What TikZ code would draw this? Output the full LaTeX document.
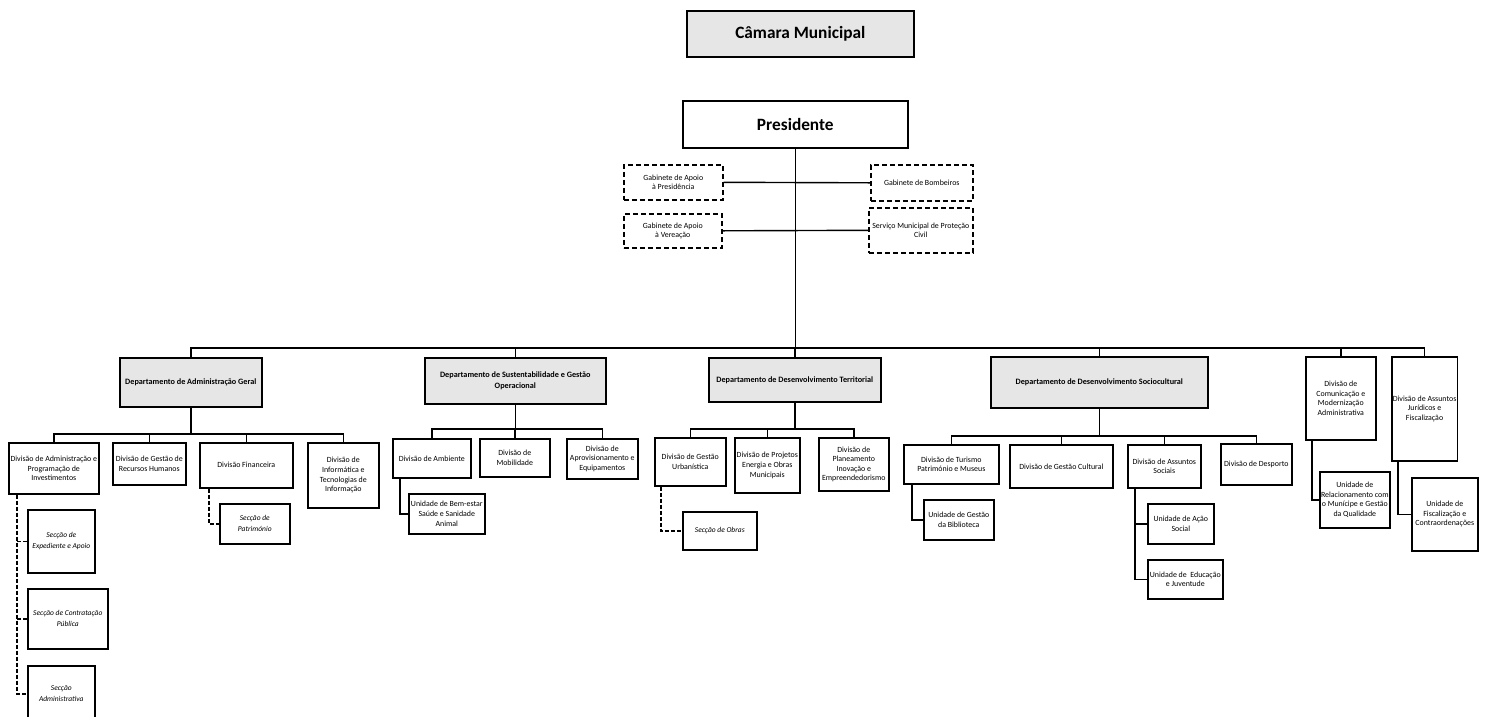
\documentclass[tikz,border=0pt]{standalone}
\usepackage{fontspec}
\setmainfont{Carlito}
\usetikzlibrary{calc}
\definecolor{boxgray}{RGB}{231,230,230}

\begin{document}
\begin{tikzpicture}[
         x=1pt, y=-1pt,
         unit/.style={draw, line width=1.6pt, anchor=north west, align=center, inner sep=1pt,
                      font=\fontsize{7.9}{9.6}\selectfont},
         title/.style={unit, font=\fontsize{17.3}{20}\selectfont\bfseries},
         dept/.style={unit, fill=boxgray, font=\fontsize{8.2}{10.4}\selectfont\bfseries},
         division/.style={unit},
         section/.style={unit, font=\fontsize{7.5}{11}\selectfont\itshape},
         office/.style={unit, dash pattern=on 5pt off 3pt},
         link/.style={line width=1.4pt},
         dashlink/.style={line width=1.4pt, dash pattern=on 4pt off 2pt}
      ]
         \useasboundingbox (0,0) rectangle (1486,716);

         % Nodes for the top
         \node[title, fill=boxgray, minimum width=227pt, minimum height=46pt] (camara) at (686,10) {Câmara Municipal};
         \node[title, minimum width=225pt, minimum height=47pt] (presid) at (682,100) {Presidente};

         % Offices beside the president
         \node[office, minimum width=99pt, minimum height=35pt] (gabpres) at (623,164) {Gabinete de Apoio\\à Presidência};
         \node[office, minimum width=98pt, minimum height=34pt] (gabver) at (623,213) {Gabinete de Apoio\\à Vereação};
         \node[office, minimum width=102pt, minimum height=36pt] (gabbomb) at (870,164) {Gabinete de Bombeiros};
         \node[office, minimum width=104pt, minimum height=45pt] (smpc) at (868,207) {Serviço Municipal de Proteção\\Civil};

         % Departments
         \node[dept, minimum width=142pt, minimum height=49pt] (dag) at (119,357) {Departamento de Administração Geral};
         \node[dept, minimum width=181pt, minimum height=46pt] (dsgo) at (424,357) {Departamento de Sustentabilidade e Gestão\\Operacional};
         \node[dept, minimum width=172pt, minimum height=44pt] (ddt) at (708,357) {Departamento de Desenvolvimento Territorial};
         \node[dept, minimum width=217pt, minimum height=51pt] (dds) at (990,356) {Departamento de Desenvolvimento Sociocultural};
         \node[division, minimum width=70pt, minimum height=83pt] (dcma) at (1305,356) {Divisão de\\Comunicação e\\Modernização\\Administrativa};
         \node[division, minimum width=65pt, minimum height=104pt] (dajf) at (1391,356) {Divisão de Assuntos\\Jurídicos e\\Fiscalização};

         % Divisions of Administração Geral
         \node[division, minimum width=90pt, minimum height=51pt] (dapi) at (8,442) {Divisão de Administração e\\Programação de\\Investimentos};
         \node[division, minimum width=73pt, minimum height=42pt] (dgrh) at (112,442) {Divisão de Gestão de\\Recursos Humanos};
         \node[division, minimum width=93pt, minimum height=45pt] (dfin) at (199,442) {Divisão Financeira};
         \node[division, minimum width=71pt, minimum height=65pt] (dinf) at (307,442) {Divisão de\\Informática e\\Tecnologias de\\Informação};
         \node[section, minimum width=67pt, minimum height=63pt] (secexp) at (27,509) {Secção de\\Expediente e Apoio};
         \node[section, minimum width=80pt, minimum height=60pt] (seccp) at (27,588) {Secção de Contratação\\Pública};
         \node[section, minimum width=67pt, minimum height=56pt] (secadm) at (27,665) {Secção\\Administrativa};
         \node[section, minimum width=70pt, minimum height=40pt] (secpat) at (219,503) {Secção de\\Património};

         % Divisions of Sustentabilidade
         \node[division, minimum width=78pt, minimum height=39pt] (damb) at (392,438) {Divisão de Ambiente};
         \node[division, minimum width=70pt, minimum height=38pt] (dmob) at (479,438) {Divisão de\\Mobilidade};
         \node[division, minimum width=71pt, minimum height=40pt] (dapr) at (566,438) {Divisão de\\Aprovisionamento e\\Equipamentos};
         \node[division, minimum width=76pt, minimum height=40pt] (ubem) at (408,493) {Unidade de Bem-estar\\Saúde e Sanidade\\Animal};

         % Divisions of Desenvolvimento Territorial
         \node[division, minimum width=71pt, minimum height=48pt] (dgu) at (654,437) {Divisão de Gestão\\Urbanística};
         \node[division, minimum width=65pt, minimum height=55pt] (dpeo) at (734,437) {Divisão de Projetos\\Energia e Obras\\Municipais};
         \node[division, minimum width=70pt, minimum height=53pt] (dpie) at (818,437) {Divisão de\\Planeamento\\Inovação e\\Empreendedorismo};
         \node[section, minimum width=74pt, minimum height=38pt] (secobr) at (682,511) {Secção de Obras};

         % Divisions of Desenvolvimento Sociocultural
         \node[division, minimum width=95pt, minimum height=39pt] (dtpm) at (903,444) {Divisão de Turismo\\Património e Museus};
         \node[division, minimum width=103pt, minimum height=43pt] (dgc) at (1009,444) {Divisão de Gestão Cultural};
         \node[division, minimum width=73pt, minimum height=43pt] (das) at (1127,444) {Divisão de Assuntos\\Sociais};
         \node[division, minimum width=71pt, minimum height=41pt] (ddes) at (1220,443) {Divisão de Desporto};
         \node[division, minimum width=70pt, minimum height=40pt] (ugb) at (923,499) {Unidade de Gestão\\da Biblioteca};
         \node[division, minimum width=66pt, minimum height=40pt] (uas) at (1147,503) {Unidade de Ação\\Social};
         \node[division, minimum width=75pt, minimum height=39pt] (uej) at (1147,559) {Unidade de \ Educação\\e Juventude};

         % Units of the two free divisions
         \node[division, minimum width=70pt, minimum height=56pt] (urmq) at (1319,471) {Unidade de\\Relacionamento com\\o Munícipe e Gestão\\da Qualidade};
         \node[division, minimum width=66pt, minimum height=73pt] (ufc) at (1411,477) {Unidade de\\Fiscalização e\\Contraordenações};

         % Connectors from the president
         \draw[link] (presid.south) -- (presid.south |- 0,348);
         \foreach \d in {dag, dsgo, ddt, dds, dcma, dajf}
            \draw[link] (presid.south |- 0,348) -| (\d.north);
         \draw[link] (gabpres.east) -- (gabbomb.west);
         \draw[link] (gabver.east) -- (smpc.west);

         % Connectors to the divisions
         \foreach \d in {dapi, dgrh, dfin, dinf}
            \draw[link] (dag.south) -- (dag.south |- 0,434) -| (\d.north);
         \foreach \d in {damb, dmob, dapr}
            \draw[link] (dsgo.south) -- (dsgo.south |- 0,429) -| (\d.north);
         \foreach \d in {dgu, dpeo, dpie}
            \draw[link] (ddt.south) -- (ddt.south |- 0,429) -| (\d.north);
         \foreach \d in {dtpm, dgc, das, ddes}
            \draw[link] (dds.south) -- (dds.south |- 0,436) -| (\d.north);

         % Connectors to the sections and units
         \coordinate (dapiL) at ([xshift=9pt]dapi.south west);
         \draw[dashlink] (dapiL) |- (secadm.west);
         \draw[dashlink] (secexp.west) -- (secexp.west -| dapiL);
         \draw[dashlink] (seccp.west) -- (seccp.west -| dapiL);
         \draw[dashlink] ([xshift=10pt]dfin.south west) |- (secpat.west);
         \draw[dashlink] ([xshift=7pt]dgu.south west) |- (secobr.west);
         \draw[link] ([xshift=8pt]damb.south west) |- (ubem.west);
         \draw[link] ([xshift=9pt]dtpm.south west) |- (ugb.west);
         \coordinate (dasL) at ([xshift=8pt]das.south west);
         \draw[link] (dasL) |- (uej.west);
         \draw[link] (uas.west) -- (uas.west -| dasL);
         \draw[link] ([xshift=7pt]dcma.south west) |- (urmq.west);
         \draw[link] ([xshift=7pt]dajf.south west) |- (ufc.west);
      \end{tikzpicture}
\end{document}
